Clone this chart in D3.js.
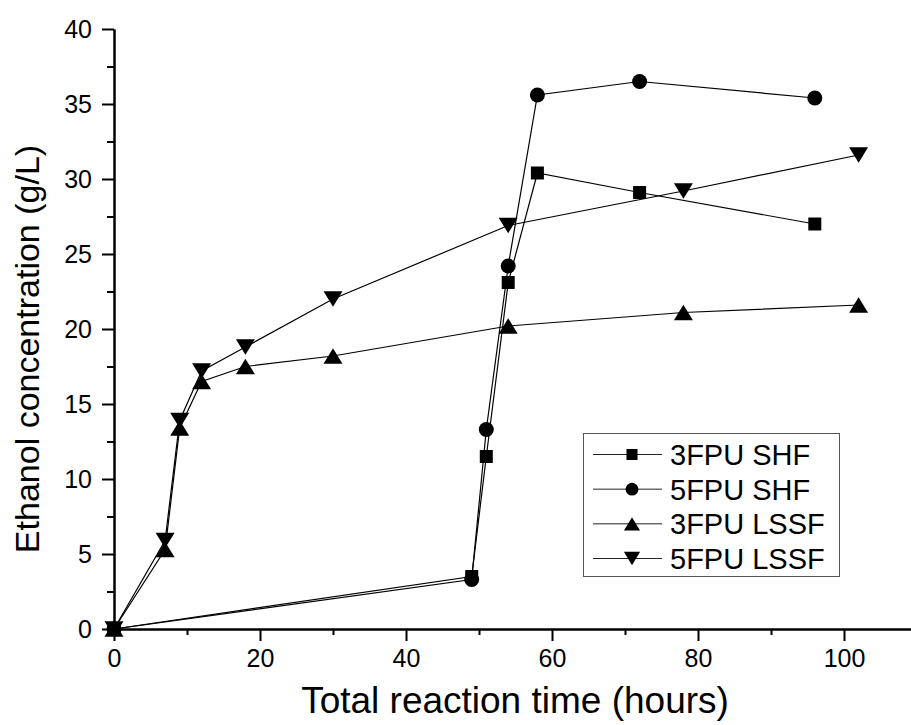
<!DOCTYPE html>
<html>
<head>
<meta charset="utf-8">
<script src="https://cdn.jsdelivr.net/npm/d3@7/dist/d3.min.js"></script>
<style>
  html, body { margin: 0; padding: 0; background: #fff; }
  svg { display: block; }
  text { font-family: "Liberation Sans", Arial, sans-serif; fill: #000; }
</style>
</head>
<body>
<svg id="chart" width="911" height="725"></svg>
<script>
// Reaction time (hours) for each process
const timeSHF  = [0, 49, 51, 54, 58, 72, 96];
const timeLSSF = [0, 7, 9, 12, 18, 30, 54, 78, 102];

// Ethanol concentration (g/L)
const shf3  = [0, 3.5, 11.5, 23.1, 30.4, 29.1, 27.0];
const shf5  = [0, 3.3, 13.3, 24.2, 35.6, 36.5, 35.4];
const lssf3 = [0, 5.3, 13.4, 16.5, 17.5, 18.2, 20.2, 21.1, 21.6];
const lssf5 = [0, 5.9, 13.9, 17.2, 18.8, 22.0, 26.9, 29.2, 31.6];

const seriesNames = ["3FPU SHF", "5FPU SHF", "3FPU LSSF", "5FPU LSSF"];
const markerKinds = ["square", "circle", "up", "down"];

const xMajor = [0, 20, 40, 60, 80, 100];
const xMinor = [10, 30, 50, 70, 90, 110];
const yMajor = [0, 5, 10, 15, 20, 25, 30, 35, 40];
const yMinor = [2.5, 7.5, 12.5, 17.5, 22.5, 27.5, 32.5, 37.5];

const xTitle = "Total reaction time (hours)";
const yTitle = "Ethanol concentration (g/L)";

const series = [
  { name: seriesNames[0], kind: markerKinds[0], xs: timeSHF,  ys: shf3 },
  { name: seriesNames[1], kind: markerKinds[1], xs: timeSHF,  ys: shf5 },
  { name: seriesNames[2], kind: markerKinds[2], xs: timeLSSF, ys: lssf3 },
  { name: seriesNames[3], kind: markerKinds[3], xs: timeLSSF, ys: lssf5 }
];

const svg = d3.select("#chart");
const x = d3.scaleLinear().domain([0, 110]).range([114, 917]);
const y = d3.scaleLinear().domain([0, 40]).range([629, 29]);

// marker path generator, centred on (0,0)
function markerPath(kind) {
  const p = d3.path();
  if (kind === "square") {
    const s = 6.5;
    p.rect(-s, -s, 2 * s, 2 * s);
  } else if (kind === "circle") {
    p.arc(0, 0, 7.5, 0, 2 * Math.PI);
  } else if (kind === "up") {
    const w = 9.5, h = 7.8;
    p.moveTo(0, -h); p.lineTo(w, h); p.lineTo(-w, h); p.closePath();
  } else {
    const w = 9.5, h = 7.8;
    p.moveTo(0, h); p.lineTo(w, -h); p.lineTo(-w, -h); p.closePath();
  }
  return p.toString();
}

// axes
const tickFont = 25;
function styleAxis(g) {
  g.select(".domain").attr("stroke", "#000").attr("stroke-width", 2);
  g.selectAll(".tick line").attr("stroke", "#000").attr("stroke-width", 2);
  g.selectAll(".tick text")
    .style("font-family", '"Liberation Sans", Arial, sans-serif')
    .style("font-size", tickFont + "px").attr("fill", "#000");
}

svg.append("g")
  .attr("transform", `translate(0,${y(0)})`)
  .call(d3.axisBottom(x).tickValues(xMinor).tickSize(6).tickSizeOuter(0).tickFormat(""))
  .call(styleAxis);
svg.append("g")
  .attr("transform", `translate(0,${y(0)})`)
  .call(d3.axisBottom(x).tickValues(xMajor).tickSize(12).tickSizeOuter(0).tickPadding(8).tickFormat(d3.format("d")))
  .call(styleAxis);

svg.append("g")
  .attr("transform", `translate(${x(0)},0)`)
  .call(d3.axisLeft(y).tickValues(yMinor).tickSize(7).tickSizeOuter(0).tickFormat(""))
  .call(styleAxis);
svg.append("g")
  .attr("transform", `translate(${x(0)},0)`)
  .call(d3.axisLeft(y).tickValues(yMajor).tickSize(12).tickSizeOuter(0).tickPadding(10).tickFormat(d3.format("d")))
  .call(styleAxis);

// axis titles
svg.append("text")
  .attr("x", 515).attr("y", 713)
  .attr("text-anchor", "middle")
  .style("font-size", "37px")
  .text(xTitle);

svg.append("text")
  .attr("transform", "translate(39,349) rotate(-90)")
  .attr("text-anchor", "middle")
  .style("font-size", "34px")
  .text(yTitle);

// series lines and markers
const line = d3.line().x(d => x(d[0])).y(d => y(d[1]));
series.forEach(s => {
  const pts = s.xs.map((t, i) => [t, s.ys[i]]);
  svg.append("path")
    .attr("d", line(pts))
    .attr("fill", "none")
    .attr("stroke", "#000")
    .attr("stroke-width", 1.2);
});
series.forEach(s => {
  const pts = s.xs.map((t, i) => [t, s.ys[i]]);
  svg.append("g").selectAll("path")
    .data(pts)
    .join("path")
    .attr("transform", d => `translate(${x(d[0])},${y(d[1])})`)
    .attr("d", markerPath(s.kind))
    .attr("fill", "#000");
});

// legend
const legend = svg.append("g");
legend.append("rect")
  .attr("x", 583.5).attr("y", 433.5)
  .attr("width", 256).attr("height", 143)
  .attr("fill", "#fff")
  .attr("stroke", "#555").attr("stroke-width", 1);

const rowY = d3.scalePoint().domain(seriesNames).range([454.5, 558.5]);
series.forEach(s => {
  const cy = rowY(s.name);
  legend.append("line")
    .attr("x1", 593).attr("x2", 662)
    .attr("y1", cy).attr("y2", cy)
    .attr("stroke", "#222").attr("stroke-width", 1);
  legend.append("path")
    .attr("transform", `translate(632,${cy}) scale(0.85)`)
    .attr("d", markerPath(s.kind))
    .attr("fill", "#000");
  legend.append("text")
    .attr("x", 670).attr("y", cy)
    .attr("dy", "0.36em")
    .style("font-size", "29px")
    .text(s.name);
});
</script>
</body>
</html>
